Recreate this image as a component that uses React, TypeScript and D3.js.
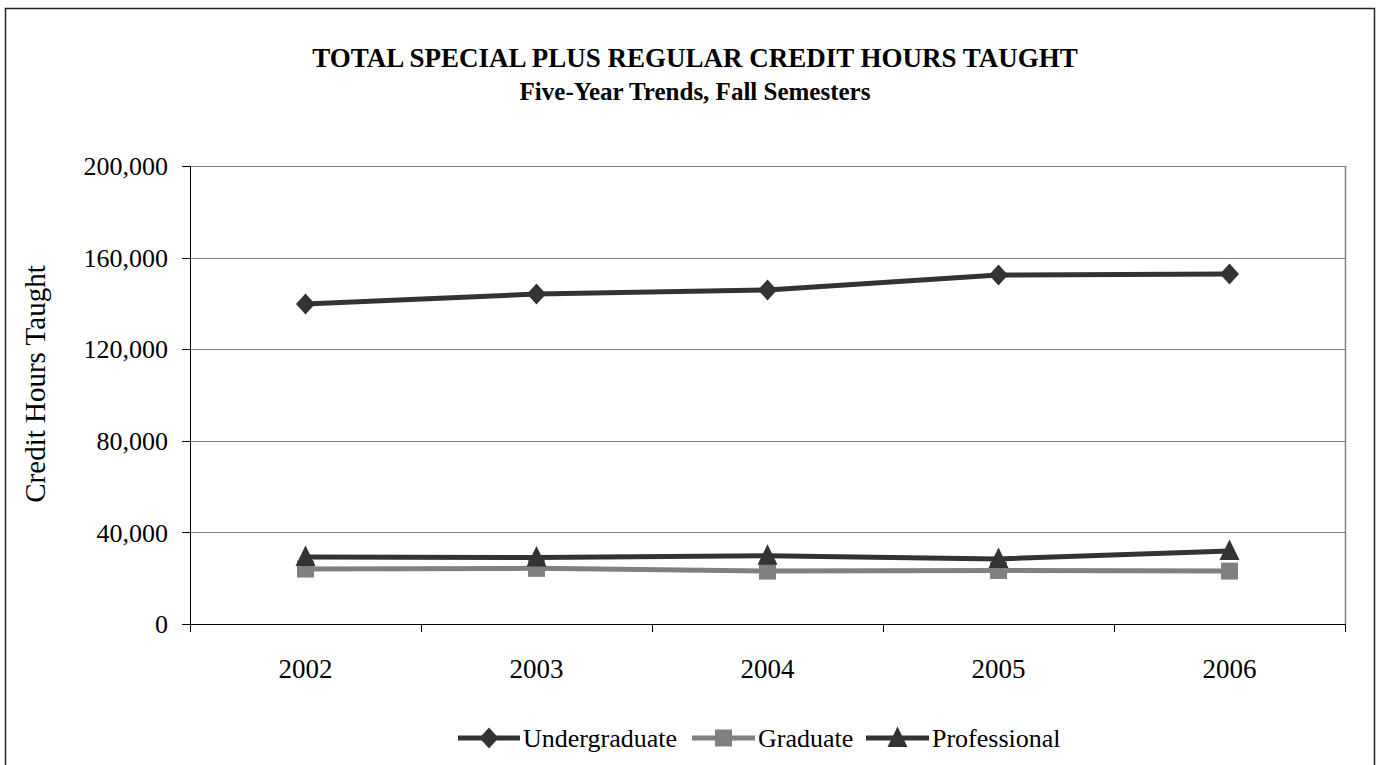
import React from "react";
import * as d3 from "d3";

const years = ["2002", "2003", "2004", "2005", "2006"];
const undergraduate = [139700, 144100, 145900, 152400, 152800];
const graduate = [24000, 24300, 23100, 23400, 23100];
const professional = [29300, 29000, 29800, 28400, 31900];
const yTicks = [0, 40000, 80000, 120000, 160000, 200000];
const seriesNames = ["Undergraduate", "Graduate", "Professional"];

const W = 1385, H = 765;
const L = 190, R = 1345, T = 166, B = 624;
const FONT = "'Liberation Serif', 'Times New Roman', serif";

function marker(kind: string, x: number, y: number, color: string, key: string) {
  if (kind === "diamond") {
    return <path key={key} d={`M${x},${y - 10.5}L${x + 9.5},${y}L${x},${y + 10.5}L${x - 9.5},${y}Z`} fill={color} />;
  }
  if (kind === "square") {
    return <rect key={key} x={x - 8.5} y={y - 8.5} width={17} height={17} fill={color} />;
  }
  return <path key={key} d={`M${x},${y - 11.5}L${x + 10},${y + 9}L${x - 10},${y + 9}Z`} fill={color} />;
}

export default function App() {
  const x = d3.scaleBand().domain(years).range([L, R]);
  const y = d3.scaleLinear().domain([0, 200000]).range([B, T]);
  const fmt = d3.format(",");
  const line = d3.line<number>().x((_, i) => x(years[i])! + x.bandwidth() / 2).y((d) => y(d));
  const series = [
    { name: seriesNames[0], data: undergraduate, color: "#333333", kind: "diamond" },
    { name: seriesNames[1], data: graduate, color: "#808080", kind: "square" },
    { name: seriesNames[2], data: professional, color: "#333333", kind: "triangle" },
  ];
  const legendX = [458, 692, 866];
  const legendTextX = [523, 758, 932];
  const legendY = 738;
  return (
    <svg width={W} height={H} style={{ position: "absolute", left: 0, top: 0, background: "#fff" }} fontFamily={FONT}>
      <rect x={5.5} y={8.5} width={1369} height={800} fill="#fff" stroke="#222" strokeWidth={1.5} />
      <text x={695} y={67} textAnchor="middle" fontSize={27} fontWeight="bold">TOTAL SPECIAL PLUS REGULAR CREDIT HOURS TAUGHT</text>
      <text x={695} y={100} textAnchor="middle" fontSize={25} fontWeight="bold">Five-Year Trends, Fall Semesters</text>
      {/* gridlines */}
      {yTicks.filter((t) => t > 0).map((t) => (
        <line key={t} x1={L} x2={R} y1={Math.round(y(t)) + 0.5} y2={Math.round(y(t)) + 0.5} stroke="#808080" strokeWidth={1} />
      ))}
      <line x1={R + 0.5} x2={R + 0.5} y1={T} y2={B} stroke="#808080" strokeWidth={1.5} />
      {/* axes */}
      <line x1={L + 0.5} x2={L + 0.5} y1={T} y2={B} stroke="#000" />
      <line x1={L} x2={R} y1={B + 0.5} y2={B + 0.5} stroke="#000" />
      {yTicks.map((t) => (
        <g key={t}>
          <line x1={L - 8} x2={L} y1={Math.round(y(t)) + 0.5} y2={Math.round(y(t)) + 0.5} stroke="#000" />
          <text x={168} y={y(t)} dy="0.35em" textAnchor="end" fontSize={26}>{fmt(t)}</text>
        </g>
      ))}
      {years.concat(["end"]).map((yr, i) => {
        const xx = L + i * x.bandwidth();
        return <line key={yr} x1={Math.round(xx) + 0.5} x2={Math.round(xx) + 0.5} y1={B} y2={B + 8} stroke="#000" />;
      })}
      {years.map((yr) => (
        <text key={yr} x={x(yr)! + x.bandwidth() / 2} y={669} dy="0.35em" textAnchor="middle" fontSize={27}>{yr}</text>
      ))}
      <text transform={`translate(35,384) rotate(-90)`} textAnchor="middle" dy="0.35em" fontSize={29}>Credit Hours Taught</text>
      {/* series */}
      {series.map((s) => (
        <g key={s.name}>
          <path d={line(s.data)!} fill="none" stroke={s.color} strokeWidth={5} />
          {s.data.map((v, i) => marker(s.kind, x(years[i])! + x.bandwidth() / 2, y(v), s.color, s.name + i))}
        </g>
      ))}
      {/* legend */}
      {series.map((s, i) => (
        <g key={"lg" + s.name}>
          <line x1={legendX[i]} x2={legendTextX[i] - 3} y1={legendY} y2={legendY} stroke={s.color} strokeWidth={5} />
          {marker(s.kind, (legendX[i] + legendTextX[i] - 3) / 2, legendY, s.color, "lm" + i)}
          <text x={legendTextX[i]} y={legendY} dy="0.35em" fontSize={26}>{s.name}</text>
        </g>
      ))}
    </svg>
  );
}
